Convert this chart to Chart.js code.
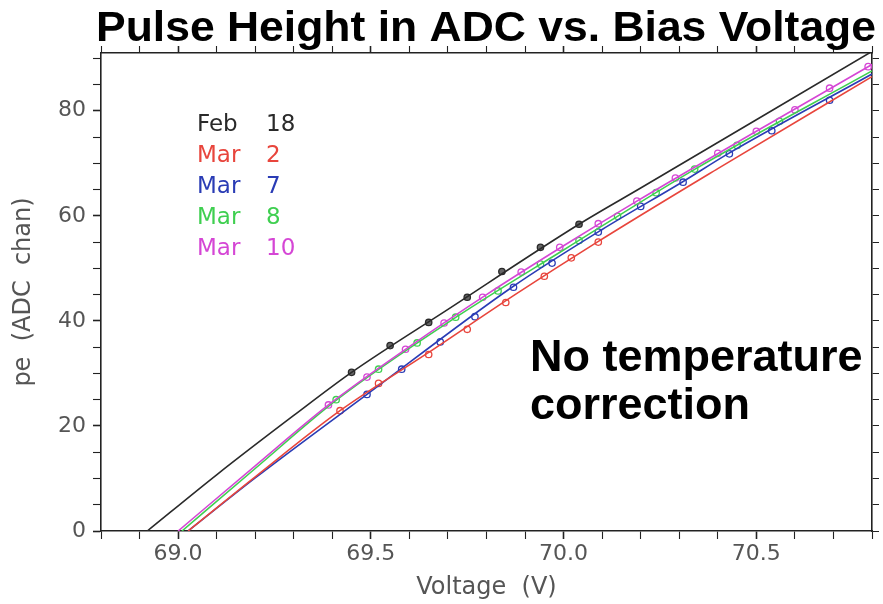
<!DOCTYPE html>
<html>
<head>
<meta charset="utf-8">
<title>Pulse Height in ADC vs. Bias Voltage</title>
<script src="https://cdn.jsdelivr.net/npm/chart.js@4.4.1/dist/chart.umd.min.js"></script>
<style>
  html, body { margin: 0; padding: 0; background: #fff; }
  #wrap { width: 883px; height: 604px; }
</style>
</head>
<body>
<div id="wrap"><canvas id="chart" width="883" height="604"></canvas></div>
<script>
// ============================================
// Pulse height (pe) vs bias voltage, per run date
// ============================================
const seriesMonths = ['Feb', 'Mar', 'Mar', 'Mar', 'Mar'];
const seriesDays = ['18', '2', '7', '8', '10'];
const seriesColors = ['#2a2a2a', '#e8453c', '#2a3cb5', '#3fcf50', '#d546d5'];

// measured points
const feb18V = [69.45, 69.55, 69.65, 69.75, 69.84, 69.94, 70.04];
const feb18Pe = [30.2, 35.3, 39.7, 44.5, 49.4, 54.0, 58.4];

const mar2V = [69.42, 69.52, 69.65, 69.75, 69.85, 69.95, 70.02, 70.09];
const mar2Pe = [22.9, 28.1, 33.6, 38.4, 43.5, 48.5, 52.0, 55.0];

const mar7V = [69.49, 69.58, 69.68, 69.77, 69.87, 69.97, 70.09, 70.20, 70.31, 70.43, 70.54, 70.69];
const mar7Pe = [26.0, 30.8, 36.0, 40.8, 46.4, 51.0, 56.9, 61.8, 66.4, 71.8, 76.2, 82.0];

const mar8V = [69.41, 69.52, 69.62, 69.72, 69.83, 69.94, 70.04, 70.14, 70.24, 70.34, 70.45, 70.56];
const mar8Pe = [25.0, 30.8, 35.8, 40.7, 45.7, 50.8, 55.3, 59.9, 64.4, 68.9, 73.4, 78.0];

const mar10V = [69.39, 69.49, 69.59, 69.69, 69.79, 69.89, 69.99, 70.09, 70.19, 70.29, 70.40, 70.50, 70.60, 70.69, 70.79];
const mar10Pe = [24.0, 29.3, 34.6, 39.6, 44.5, 49.3, 54.0, 58.5, 62.8, 67.2, 71.9, 76.1, 80.2, 84.3, 88.4];

// fitted curves
const feb18FitV = [68.92, 69.1, 69.3, 69.45, 69.7, 70.04, 70.2, 70.5, 70.8];
const feb18FitPe = [0, 10.7, 22.0, 30.2, 42.2, 58.4, 65.3, 78.3, 91.3];

const mar2FitV = [69.026, 69.2, 69.42, 69.646, 69.874, 70.087, 70.4, 70.8];
const mar2FitPe = [0, 10.3, 22.9, 33.8, 45.0, 55.0, 69.0, 86.5];

const mar7FitV = [69.026, 69.2, 69.49, 69.866, 70.1, 70.307, 70.426, 70.8];
const mar7FitPe = [0, 10.1, 26.0, 46.4, 57.4, 66.4, 71.8, 87.0];

const mar8FitV = [69.01, 69.2, 69.412, 69.723, 70.0, 70.341, 70.8];
const mar8FitPe = [0, 11.9, 25.0, 40.8, 53.5, 68.9, 87.6];

const mar10FitV = [69.0, 69.2, 69.39, 69.6, 69.8, 70.0, 70.19, 70.5, 70.8];
const mar10FitPe = [0, 12.4, 24.0, 35.1, 45.0, 54.3, 62.8, 76.1, 88.8];

// axis ranges / ticks
const xMin = 68.8, xMax = 70.8, xStep = 0.1, xLabelEvery = 0.5;
const yMin = 0, yMax = 91, yStep = 5, yLabelEvery = 20;

const pts = (xs, ys) => xs.map((x, i) => ({ x: x, y: ys[i] }));

const pointSets = [
  pts(feb18V, feb18Pe), pts(mar2V, mar2Pe), pts(mar7V, mar7Pe), pts(mar8V, mar8Pe), pts(mar10V, mar10Pe)
];
const fitSets = [
  pts(feb18FitV, feb18FitPe), pts(mar2FitV, mar2FitPe), pts(mar7FitV, mar7FitPe), pts(mar8FitV, mar8FitPe), pts(mar10FitV, mar10FitPe)
];

// draw order: magenta, green, red, blue, black
const drawOrder = [4, 3, 1, 2, 0];
const datasets = [];
drawOrder.forEach(i => {
  datasets.push({
    label: seriesMonths[i] + ' ' + seriesDays[i] + ' fit',
    data: fitSets[i],
    borderColor: seriesColors[i], borderWidth: 1.6,
    pointRadius: 0, showLine: true, fill: false,
    tension: 0.4, cubicInterpolationMode: 'monotone'
  });
});
drawOrder.forEach(i => {
  datasets.push({
    label: seriesMonths[i] + ' ' + seriesDays[i],
    data: pointSets[i],
    showLine: false,
    pointRadius: 3.2, pointBorderWidth: 1.3,
    pointBorderColor: seriesColors[i],
    pointBackgroundColor: i === 0 ? '#666' : 'rgba(255,255,255,0.6)'
  });
});

const isMult = (v, m) => Math.abs(v / m - Math.round(v / m)) < 1e-6;
const tickFont = { family: '"DejaVu Sans", sans-serif', size: 22 };
const titleFont = { family: '"DejaVu Sans", sans-serif', size: 24 };
const axisColor = '#222';

// extra text: title, legend, note
const textPlugin = {
  id: 'texts',
  afterDraw(chart) {
    const ctx = chart.ctx;
    ctx.save();
    // main title, squeezed to the reference width
    ctx.fillStyle = '#000';
    ctx.font = 'bold 42px "Liberation Sans", Arial, sans-serif';
    ctx.textBaseline = 'alphabetic';
    const title = 'Pulse Height in ADC vs. Bias Voltage';
    const w = ctx.measureText(title).width;
    ctx.translate(96, 41);
    ctx.scale(780 / w, 1);
    ctx.fillText(title, 0, 0);
    ctx.restore();

    ctx.save();
    ctx.font = '23px "DejaVu Sans", sans-serif';
    ctx.textBaseline = 'alphabetic';
    seriesMonths.forEach((m, i) => {
      ctx.fillStyle = seriesColors[i];
      ctx.fillText(m, 197, 131 + i * 31);
      ctx.fillText(seriesDays[i], 266, 131 + i * 31);
    });

    ctx.fillStyle = '#000';
    ctx.font = 'bold 45px "Liberation Sans", Arial, sans-serif';
    ctx.fillText('No temperature', 530, 371);
    ctx.fillText('correction', 530, 419);
    ctx.restore();
  }
};

new Chart(document.getElementById('chart'), {
  type: 'scatter',
  data: { datasets: datasets },
  plugins: [textPlugin],
  options: {
    responsive: false,
    animation: false,
    layout: { padding: { top: 53, right: 11, left: 0, bottom: 0 } },
    plugins: { legend: { display: false }, tooltip: { enabled: false } },
    scales: {
      x: {
        type: 'linear', position: 'bottom', min: xMin, max: xMax,
        afterFit: s => { s.height = 73; },
        border: { color: axisColor, width: 1.6 },
        grid: { drawOnChartArea: false, tickLength: 8, tickColor: axisColor,
                tickWidth: c => isMult(c.tick.value, xLabelEvery) ? 1.6 : 1.1 },
        ticks: { stepSize: xStep, maxTicksLimit: 100, autoSkip: false, maxRotation: 0,
                 padding: 2, color: '#555', font: tickFont,
                 callback: v => isMult(v, xLabelEvery) ? v.toFixed(1) : '' },
        title: { display: true, text: 'Voltage  (V)', color: '#555', font: titleFont,
                 padding: { top: 0, bottom: 2 } }
      },
      x2: {
        type: 'linear', position: 'top', min: xMin, max: xMax,
        afterFit: s => { s.height = 0; },
        border: { color: axisColor, width: 1.6 },
        grid: { drawOnChartArea: false, tickLength: 7, tickColor: axisColor,
                tickWidth: c => isMult(c.tick.value, xLabelEvery) ? 1.6 : 1.1 },
        ticks: { display: false, stepSize: xStep, maxTicksLimit: 100, autoSkip: false }
      },
      y: {
        type: 'linear', position: 'left', min: yMin, max: yMax,
        afterFit: s => { s.width = 101; },
        border: { color: axisColor, width: 1.6 },
        grid: { drawOnChartArea: false, tickLength: 8, tickColor: axisColor,
                tickWidth: c => isMult(c.tick.value, yLabelEvery) ? 1.6 : 1.1 },
        ticks: { stepSize: yStep, includeBounds: false, maxTicksLimit: 100, autoSkip: false,
                 padding: 7, color: '#555', font: tickFont,
                 callback: v => isMult(v, yLabelEvery) ? String(v) : '' },
        title: { display: true, text: 'pe  (ADC  chan)', color: '#555', font: titleFont,
                 padding: { top: 9, bottom: 0 } }
      },
      y2: {
        type: 'linear', position: 'right', min: yMin, max: yMax,
        afterFit: s => { s.width = 0; },
        border: { color: axisColor, width: 1.6 },
        grid: { drawOnChartArea: false, tickLength: 7, tickColor: axisColor },
        ticks: { display: false, stepSize: yStep, includeBounds: false, maxTicksLimit: 100, autoSkip: false }
      }
    }
  }
});
</script>
</body>
</html>
